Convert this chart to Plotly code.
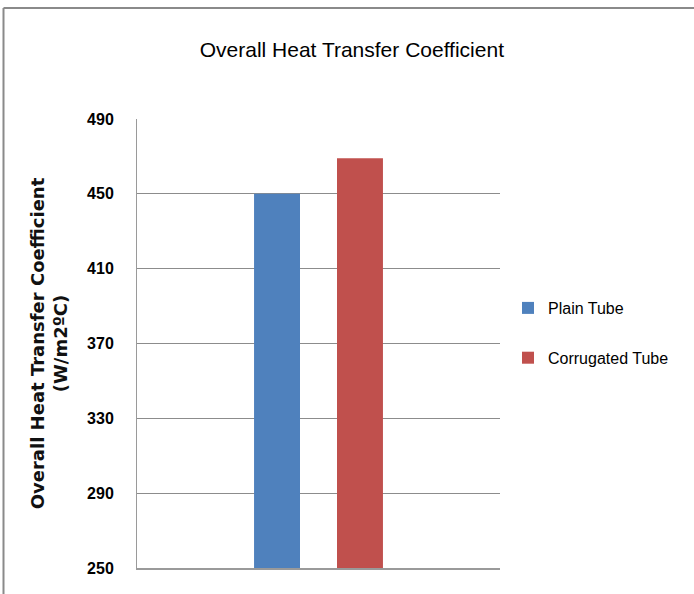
import plotly.graph_objects as go

# Overall heat transfer coefficient for the two tube types
category = [""]
series_names = ["Plain Tube", "Corrugated Tube"]
series_values = [[450], [469]]
series_colors = ["#4F81BD", "#C0504D"]

y_ticks = [250, 290, 330, 370, 410, 450, 490]

W, H = 694, 594
L, R, T, B = 137, 194, 119, 26
plot_w = W - L - R
plot_h = H - T - B

sans = "Liberation Sans, Arial, sans-serif"

fig = go.Figure()
for i, (name, vals, col) in enumerate(zip(series_names, series_values, series_colors)):
    fig.add_trace(go.Bar(
        x=category, y=vals, name=name,
        marker=dict(color=col, line=dict(width=0)),
        legendgroup=f"g{i}",
    ))

fig.update_layout(
    width=W, height=H,
    margin=dict(l=L, r=R, t=T, b=B, autoexpand=False),
    paper_bgcolor="white", plot_bgcolor="white",
    barmode="group", bargap=0.543, bargroupgap=0.446,
    title=dict(
        text="Overall Heat Transfer Coefficient",
        font=dict(family=sans, size=21, color="black"),
        x=0.507, xanchor="center", y=1 - 50 / H, yanchor="middle",
    ),
    showlegend=True,
    legend=dict(
        x=(508 - L) / plot_w, xanchor="left",
        y=1 - (333 - T) / plot_h, yanchor="middle",
        traceorder="grouped", tracegroupgap=26,
        font=dict(family=sans, size=16, color="black"),
        itemwidth=30,
    ),
    xaxis=dict(
        showticklabels=False, showgrid=False,
        showline=True, linecolor="#9a9a9a", linewidth=1.5,
        ticks="", zeroline=False,
    ),
    yaxis=dict(
        range=[250, 490], tickvals=y_ticks,
        showgrid=True, gridcolor="#8c8c8c", gridwidth=1,
        showline=True, linecolor="#9a9a9a", linewidth=1,
        ticks="", zeroline=False, ticklabelstandoff=19,
        tickfont=dict(family=sans, size=16, color="black", weight="bold"),
        title=dict(
            text="<b>Overall Heat Transfer Coefficient<br>(W/m2ºC)</b>",
            font=dict(family="DejaVu Sans, Verdana, sans-serif", size=18, color="#111111"),
            standoff=14,
        ),
    ),
)

# Chart-area border along the left and top edges
fig.add_shape(type="line", xref="paper", yref="paper",
              x0=(3.5 - L) / plot_w, x1=(3.5 - L) / plot_w,
              y0=1 + (T - 8) / plot_h, y1=-(B + 5) / plot_h,
              line=dict(color="#8a8a8a", width=2))
fig.add_shape(type="line", xref="paper", yref="paper",
              x0=(3.5 - L) / plot_w, x1=(W + 5 - L) / plot_w,
              y0=1 + (T - 8) / plot_h, y1=1 + (T - 8) / plot_h,
              line=dict(color="#8a8a8a", width=2))

fig.write_html("out.html")
